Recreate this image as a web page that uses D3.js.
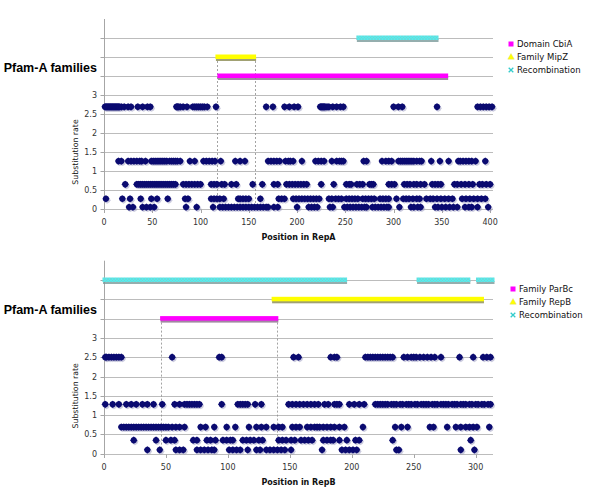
<!DOCTYPE html>
<html><head><meta charset="utf-8">
<script src="https://cdn.jsdelivr.net/npm/d3@7"></script>
<style>body{margin:0;background:#fff}svg{display:block}</style>
</head><body>
<svg id="c" width="600" height="500"></svg>
<script>
// ---------- DATA : RepA ----------
const rateLevelsA = [2.69, 1.26, 0.65, 0.27, 0.05];
const repA_lvl0 = [1,2,3,4,5,6,7,8,9,10,11,12,13,14,15,16,18,21,25,28,35,40,45,48,75,76,77,79,82,86,92,94,96,98,100,102,104,107,116,168,175,187,192,197,201,224,225,226,227,228,229,231,233,237,241,245,248,300,305,309,345,387,390,393,396,399,402];
const repA_lvl1 = [15,18,25,28,31,34,37,39,43,49,51,53,55,57,59,61,63,65,68,70,72,74,76,79,89,94,103,106,109,112,115,121,136,141,146,170,173,176,179,182,188,191,193,196,205,219,222,225,228,236,241,244,246,248,269,272,288,292,295,298,305,307,309,311,313,315,317,319,321,324,327,329,339,348,357,367,369,372,375,378,381,385,395];
const repA_lvl2 = [22,34,36,38,40,42,44,46,48,50,52,54,56,58,60,62,64,66,68,70,72,74,82,85,88,91,94,97,100,111,114,117,122,125,132,137,154,164,176,180,189,192,195,198,201,204,207,210,225,238,251,254,256,262,265,268,275,277,279,295,298,301,311,314,317,321,324,328,332,340,343,346,349,363,366,370,374,378,382,389,392,396,400];
const repA_lvl3 = [2,19,27,38,49,55,66,84,87,111,114,117,120,124,139,141,144,147,150,162,181,184,187,196,199,202,205,208,211,214,217,220,223,233,236,240,243,246,251,254,257,260,263,268,271,274,277,280,286,289,292,295,303,310,313,316,320,324,327,334,338,341,345,349,353,357,361,371,375,379,383,387,391,395];
const repA_lvl4 = [26,30,40,44,48,52,85,96,113,120,123,126,129,132,135,138,141,144,147,150,153,156,159,162,165,168,170,176,180,200,212,215,218,221,234,237,249,252,255,258,261,264,267,270,272,278,281,284,287,290,293,295,306,318,321,325,328,343,346,350,354,358,362,366,374,378,381,387,398];
const domainCbiA = [[119, 355]];
const familyMipZ = [[117, 156]];
const recombA = [[263, 345]];
const guidesA = [117, 156];
const xTicksA = [0,50,100,150,200,250,300,350,400];
const legendA = ["Domain CbiA", "Family MipZ", "Recombination"];

// ---------- DATA : RepB ----------
const rateLevelsB = [2.5, 1.28, 0.69, 0.35, 0.10];
const repB_lvl0 = [1,2,4,6,8,10,12,14,55,93,95,153,157,183,186,188,211,213,215,217,219,221,223,225,227,229,231,233,242,245,248,250,252,255,258,261,264,267,272,287,298,306,309,312];
const repB_lvl1 = [1,7,12,18,22,26,31,35,40,47,57,61,65,67,69,71,73,75,77,95,108,110,112,114,116,122,127,149,152,155,158,161,164,167,170,173,178,181,186,188,190,198,202,206,210,219,221,223,225,227,229,232,234,236,239,241,244,246,248,251,253,256,258,260,262,265,267,269,272,274,276,278,281,283,285,288,290,292,295,297,300,302,305,307,310,312];
const repB_lvl2 = [14,16,18,20,22,24,26,28,30,32,34,36,38,40,42,44,46,48,50,52,55,58,61,65,78,82,89,99,106,117,123,127,131,137,141,144,152,155,158,164,167,170,172,174,177,180,183,186,190,194,209,235,240,245,263,266,277,284,288,292,295,298,301,311];
const repB_lvl3 = [24,42,50,54,57,72,75,83,86,90,96,99,102,104,112,115,118,121,125,128,141,144,147,151,154,159,162,165,168,177,180,183,185,190,196,203,206,233,296];
const repB_lvl4 = [35,45,58,61,64,75,78,81,84,87,89,101,104,107,110,116,123,126,131,134,137,140,143,146,151,176,192,195,198,201,204,236,238,288,299];
const familyParBc = [[46.5, 139.5]];
const familyRepB = [[136.5, 305.5]];
const recombB = [[0, 195], [253.5, 294.5], [301.5, 314]];
const guidesB = [46, 139.5];
const xTicksB = [0,50,100,150,200,250,300];
const legendB = ["Family ParBc", "Family RepB", "Recombination"];

const yTicks = [0,0.5,1,1.5,2,2.5,3];
const gridLevels = [0,0.5,1,1.5,2,2.5,3,3.5,4,4.5];
const bandLevels = [3.5, 4, 4.5];
const axisTitleY = "Substitution rate";
const panelTitle = "Pfam-A families";

// ---------- DRAW ----------
const svg = d3.select("#c");
const defs = svg.append("defs");
const pat = defs.append("pattern").attr("id","hatch").attr("patternUnits","userSpaceOnUse")
  .attr("width",3).attr("height",3);
pat.append("rect").attr("width",3).attr("height",3).attr("fill","#52eeee");
pat.append("path").attr("d","M0,0L3,3M3,0L0,3").attr("stroke","#7fc4c4").attr("stroke-width",0.45);

const diamond = "M0,-3.6L2.4,-2.2L3.4,0L2.4,2.2L0,3.6L-2.4,2.2L-3.4,0L-2.4,-2.2Z";
const FONT = "DejaVu Sans, Verdana, sans-serif";

function panel(o) {
  const g = svg.append("g");
  const x = d3.scaleLinear().domain([0, o.xmax]).range([104, 493]);
  const y = d3.scaleLinear().domain([0, 5]).range([o.y0, o.y5]);

  g.selectAll("line.grid").data(gridLevels).join("line")
    .attr("x1", 104).attr("x2", 493)
    .attr("y1", d => Math.round(y(d)) + 0.5).attr("y2", d => Math.round(y(d)) + 0.5)
    .attr("stroke", "#bcbcbc").attr("stroke-width", 1);
  g.append("line").attr("x1",104.5).attr("x2",104.5).attr("y1",y(5)).attr("y2",Math.round(y(0))+0.5)
    .attr("stroke","#a6a6a6");
  g.selectAll("line.yt").data(gridLevels).join("line")
    .attr("x1",100.5).attr("x2",104.5)
    .attr("y1", d => Math.round(y(d)) + 0.5).attr("y2", d => Math.round(y(d)) + 0.5)
    .attr("stroke","#a6a6a6");
  g.selectAll("text.yl").data(yTicks).join("text")
    .attr("x", 97).attr("y", d => y(d) + 3)
    .attr("text-anchor","end").attr("font-family",FONT)
    .attr("font-size", 8).attr("fill","#333").text(d => d);
  g.selectAll("line.xt").data(o.xticks).join("line")
    .attr("x1", d => Math.round(x(d))+0.5).attr("x2", d => Math.round(x(d))+0.5)
    .attr("y1", Math.round(y(0))+0.5).attr("y2", Math.round(y(0))+4)
    .attr("stroke","#a6a6a6");
  g.selectAll("text.xl").data(o.xticks).join("text")
    .attr("x", d => x(d)).attr("y", y(0) + 16)
    .attr("text-anchor","middle").attr("font-family",FONT)
    .attr("font-size", 8).attr("fill","#333").text(d => d);
  g.append("text").attr("x", (104+493)/2).attr("y", y(0) + 31)
    .attr("text-anchor","middle").attr("font-family",FONT)
    .attr("font-weight","bold").attr("font-size", 8).attr("fill","#111").text(o.xtitle);
  g.append("text").attr("transform", `translate(78,${(y(0)+y(3))/2}) rotate(-90)`)
    .attr("text-anchor","middle").attr("font-family",FONT)
    .attr("font-size", 7.8).attr("fill","#111").text(axisTitleY);
  g.append("text").attr("x", 97).attr("y", y(3.5) - 4.5)
    .attr("text-anchor","end").attr("font-family","Liberation Sans, Arial, sans-serif")
    .attr("font-weight","bold").attr("font-size", 12.5).attr("fill","#000").text(panelTitle);

  g.selectAll("line.guide").data(o.guides).join("line")
    .attr("x1", d => Math.round(x(d))+0.5).attr("x2", d => Math.round(x(d))+0.5)
    .attr("y1", y(o.guideFrom)).attr("y2", y(0))
    .attr("stroke","#8c8c8c").attr("stroke-width",0.8).attr("stroke-dasharray","2,2");

  const bands = [
    {ranges:o.b1, lvl:bandLevels[0], fill:"#ff00ff", sh:"#8a6a8a"},
    {ranges:o.b2, lvl:bandLevels[1], fill:"#ffff00", sh:"#8a8a50"},
    {ranges:o.b3, lvl:bandLevels[2], fill:"url(#hatch)", sh:"#7a9a9a"}
  ];
  bands.forEach(b => {
    b.ranges.forEach(r => {
      g.append("rect").attr("x", x(r[0]) - 1).attr("y", y(b.lvl) + 1)
        .attr("width", x(r[1]) - x(r[0]) + 2.5).attr("height", 3)
        .attr("fill", b.sh).attr("opacity", 0.8);
      g.append("rect").attr("x", x(r[0]) - 1.5).attr("y", y(b.lvl) - 2.5)
        .attr("width", x(r[1]) - x(r[0]) + 3).attr("height", 4.5)
        .attr("fill", b.fill);
    });
  });

  const pts = [];
  o.rows.forEach((row, i) => row.forEach(p => pts.push({p, r:o.levels[i]})));
  g.selectAll("path.sh").data(pts).join("path")
    .attr("d", diamond).attr("transform", d => `translate(${x(d.p)+1.2},${y(d.r)+1.4})`)
    .attr("fill", "#9a9ac0").attr("opacity", 0.5);
  g.selectAll("path.pt").data(pts).join("path")
    .attr("d", diamond).attr("transform", d => `translate(${x(d.p)},${y(d.r)})`)
    .attr("fill", "#0a0a70");

  const lg = g.append("g");
  o.legend.forEach((t, i) => {
    const cy = o.legY + i * 13;
    if (i === 0) lg.append("rect").attr("x", o.legX - 2.5).attr("y", cy - 2.5).attr("width",5).attr("height",5).attr("fill","#ff00ff");
    if (i === 1) lg.append("path").attr("d", d3.symbol(d3.symbolTriangle, 18)()).attr("transform",`translate(${o.legX},${cy+0.3})`).attr("fill","#ffff00").attr("stroke","#d8d860").attr("stroke-width",0.4);
    if (i === 2) lg.append("path").attr("d","M-2.3,-2.3L2.3,2.3M2.3,-2.3L-2.3,2.3").attr("transform",`translate(${o.legX},${cy})`).attr("stroke","#33cccc").attr("stroke-width",1.3);
    lg.append("text").attr("x", o.legX + 6).attr("y", cy + 3)
      .attr("font-family",FONT).attr("font-size", 8.5).attr("fill","#111").text(t);
  });
}

panel({xmax:403, y0:209, y5:19, xticks:xTicksA, xtitle:"Position in RepA",
  guides:guidesA, guideFrom:4, b1:domainCbiA, b2:familyMipZ, b3:recombA,
  rows:[repA_lvl0,repA_lvl1,repA_lvl2,repA_lvl3,repA_lvl4], levels:rateLevelsA,
  legend:legendA, legX:511, legY:44});
panel({xmax:314, y0:453.7, y5:260.7, xticks:xTicksB, xtitle:"Position in RepB",
  guides:guidesB, guideFrom:3.5, b1:familyParBc, b2:familyRepB, b3:recombB,
  rows:[repB_lvl0,repB_lvl1,repB_lvl2,repB_lvl3,repB_lvl4], levels:rateLevelsB,
  legend:legendB, legX:513, legY:289});
</script>
</body></html>
